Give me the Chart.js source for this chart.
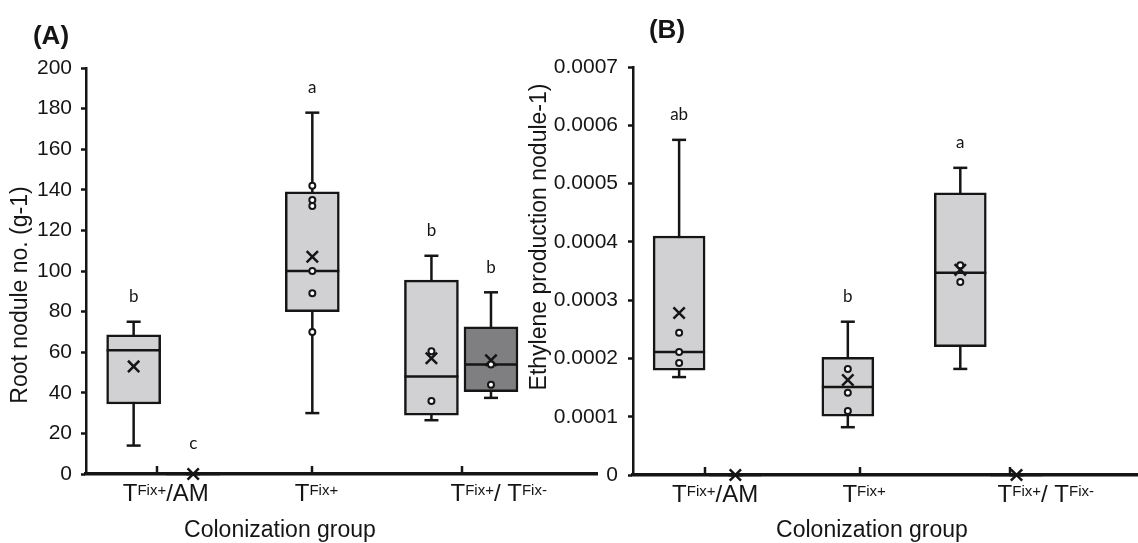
<!DOCTYPE html>
<html lang="en">
<head>
<meta charset="UTF-8">
<title>Root nodules and ethylene production by colonization group</title>
<script src="https://cdn.jsdelivr.net/npm/chart.js"></script>
<style>
  html, body { margin: 0; padding: 0; background: #fff; }
  body { width: 1138px; height: 543px; position: relative; overflow: hidden; }
  .panel { position: absolute; top: 0; height: 543px; }
  #panelA { left: 0; width: 600px; }
  #panelB { left: 520px; width: 618px; }
</style>
</head>
<body>
<div class="panel" id="panelA"><canvas id="noduleChart"></canvas></div>
<div class="panel" id="panelB"><canvas id="ethyleneChart"></canvas></div>

<script>
// groups on the x axis (^{...} = superscript)
const groupLabels = ['T^{Fix+}/AM', 'T^{Fix+}', 'T^{Fix+}/ T^{Fix-}'];
// one entry per box: x slot and fill shade
const boxSlot  = [0, 1, 3, 5, 6];
const boxShade = ['light', 'dark', 'light', 'light', 'dark'];

// (A) root nodule no. (g-1)
const noduleMin    = [14, 0, 30, 26.5, 37.5];
const noduleQ1     = [34.5, 0, 80, 29, 40.5];
const noduleMedian = [61, 0, 100, 48, 54];
const noduleQ3     = [68.5, 0, 139, 95.5, 72.5];
const noduleMax    = [75, 0, 178, 107.5, 89.5];
const noduleMean   = [53, 0, 107, 57, 56];
const nodulePoints = [[], [], [142, 135, 132, 100, 89, 70], [60.5, 36], [54, 44]];
const noduleLetters = ['b', 'c', 'a', 'b', 'b'];
const noduleTicks  = [0, 20, 40, 60, 80, 100, 120, 140, 160, 180, 200];

// (B) ethylene production nodule-1
const ethyleneMin    = [0.000168, 0, 0.000082, 0.000182, 0];
const ethyleneQ1     = [0.000180, 0, 0.000101, 0.000220, 0];
const ethyleneMedian = [0.000211, 0, 0.000151, 0.000347, 0];
const ethyleneQ3     = [0.000410, 0, 0.000202, 0.000484, 0];
const ethyleneMax    = [0.000575, 0, 0.000263, 0.000527, 0];
const ethyleneMean   = [0.000278, 0, 0.000163, 0.000352, 0];
const ethylenePoints = [[0.000244, 0.000211, 0.000192], [], [0.000182, 0.000141, 0.000110], [0.000360, 0.000331], []];
const ethyleneLetters = ['ab', '', 'b', 'a', ''];
const ethyleneTicks  = [0, 0.0001, 0.0002, 0.0003, 0.0004, 0.0005, 0.0006, 0.0007];

const INK = '#151515';
const FONT = '"Liberation Sans", Arial, sans-serif';
Chart.defaults.font.family = FONT;
Chart.defaults.color = INK;

// builds whiskers, boxes, medians, raw points and means for one panel
function boxDatasets(st, boxWidth) {
  const sets = [];
  st.min.forEach((lo, i) => {
    sets.push({
      type: 'scatter', order: 3, showLine: true, clip: false,
      data: [{ x: boxSlot[i], y: lo }, { x: boxSlot[i], y: st.max[i] }],
      borderColor: INK, borderWidth: 2.5,
      pointStyle: 'line', pointRadius: 7, pointBorderWidth: 2.5, pointBorderColor: INK
    });
  });
  sets.push({
    type: 'bar', order: 2, grouped: false, barThickness: boxWidth,
    data: boxSlot.map((x, i) => ({ x: x, y: [st.q1[i], st.q3[i]] })),
    backgroundColor: boxShade.map(s => s === 'dark' ? '#7f7e80' : '#d1d0d2'),
    borderColor: INK, borderWidth: 2.5, borderSkipped: false
  });
  sets.push({
    type: 'scatter', order: 1, clip: false,
    data: boxSlot.map((x, i) => ({ x: x, y: st.med[i] })),
    pointStyle: 'line', pointRadius: boxWidth / 2, pointBorderWidth: 2.5, pointBorderColor: INK
  });
  const pts = [];
  st.points.forEach((list, i) => list.forEach(v => pts.push({ x: boxSlot[i], y: v })));
  sets.push({
    type: 'scatter', order: 0, clip: false, data: pts,
    pointStyle: 'circle', pointRadius: 3, pointBorderWidth: 2,
    pointBackgroundColor: '#fff', pointBorderColor: INK
  });
  sets.push({
    type: 'scatter', order: 0, clip: false,
    data: boxSlot.map((x, i) => ({ x: x, y: st.mean[i] })),
    pointStyle: 'crossRot', pointRadius: 8, pointBorderWidth: 2.5, pointBorderColor: INK
  });
  return sets;
}

// group label with superscripts
function drawGroupLabel(ctx, text, cx, base) {
  const parts = [];
  text.split(/(\^\{[^}]*\})/).forEach(p => {
    if (!p) return;
    if (p.startsWith('^{')) parts.push({ t: p.slice(2, -1), sup: true });
    else parts.push({ t: p, sup: false });
  });
  const fMain = '24px ' + FONT, fSup = '15px ' + FONT;
  let total = 0;
  parts.forEach(p => { ctx.font = p.sup ? fSup : fMain; p.w = ctx.measureText(p.t).width; total += p.w; });
  let xx = cx - total / 2;
  ctx.textAlign = 'left';
  ctx.textBaseline = 'alphabetic';
  parts.forEach(p => {
    ctx.font = p.sup ? fSup : fMain;
    ctx.fillText(p.t, xx, p.sup ? base - 6 : base);
    xx += p.w;
  });
}

// inward x ticks, group labels, significance letters, axis titles, panel tag
function decorPlugin(lay, st) {
  return {
    id: 'decor',
    afterDraw(chart) {
      const { ctx } = chart;
      const x = chart.scales.x, y = chart.scales.y;
      ctx.save();
      ctx.fillStyle = INK;
      ctx.strokeStyle = INK;
      ctx.lineWidth = 2.5;
      lay.tickAt.forEach(v => {
        const px = Math.round(x.getPixelForValue(v));
        ctx.beginPath();
        ctx.moveTo(px, y.bottom);
        ctx.lineTo(px, y.bottom - 8);
        ctx.stroke();
      });
      groupLabels.forEach((lab, i) => drawGroupLabel(ctx, lab, x.getPixelForValue(lay.labelAt[i]), lay.labelBase));

      ctx.font = '17px Lato, "Open Sans", sans-serif';
      ctx.textAlign = 'center';
      ctx.textBaseline = 'middle';
      st.letters.forEach((t, i) => {
        if (!t) return;
        const gap = st.max[i] === 0 ? 30 : 25;
        ctx.fillText(t, x.getPixelForValue(boxSlot[i]), y.getPixelForValue(st.max[i]) - gap);
      });

      ctx.font = '23px ' + FONT;
      ctx.fillText(lay.xTitle, lay.xTitlePos[0], lay.xTitlePos[1]);
      ctx.save();
      ctx.translate(lay.yTitlePos[0], lay.yTitlePos[1]);
      ctx.rotate(-Math.PI / 2);
      ctx.fillText(lay.yTitle, 0, 0);
      ctx.restore();

      ctx.font = 'bold 26px ' + FONT;
      ctx.fillText(lay.tag, lay.tagPos[0], lay.tagPos[1]);
      ctx.restore();
    }
  };
}

function makePanel(canvasId, st, lay) {
  new Chart(document.getElementById(canvasId), {
    type: 'bar',
    data: { datasets: boxDatasets(st, lay.boxWidth) },
    options: {
      responsive: true,
      maintainAspectRatio: false,
      animation: false,
      events: [],
      layout: { autoPadding: false, padding: { top: lay.padTop, right: lay.padRight, left: 0, bottom: 0 } },
      plugins: { legend: { display: false }, tooltip: { enabled: false } },
      scales: {
        x: {
          type: 'linear', offset: false, min: lay.xMin, max: lay.xMax,
          ticks: { display: false },
          grid: { display: true, drawOnChartArea: false, drawTicks: false },
          border: { display: true, color: INK, width: 3.5 },
          afterFit(s) { s.height = lay.axisH; }
        },
        y: {
          type: 'linear', stacked: false, min: 0, max: st.ticks[st.ticks.length - 1],
          afterBuildTicks(s) { s.ticks = st.ticks.map(v => ({ value: v })); },
          ticks: {
            padding: lay.tickPad, color: INK, font: { size: 21 },
            callback: v => st.tickText(v)
          },
          grid: { drawOnChartArea: false, drawTicks: true, tickLength: 5, tickWidth: 2.5, tickColor: INK },
          border: { display: true, color: INK, width: 2.5 },
          afterFit(s) { s.width = lay.axisW; }
        }
      }
    },
    plugins: [decorPlugin(lay, st)]
  });
}

makePanel('noduleChart', {
  min: noduleMin, q1: noduleQ1, med: noduleMedian, q3: noduleQ3, max: noduleMax,
  mean: noduleMean, points: nodulePoints, letters: noduleLetters, ticks: noduleTicks,
  tickText: v => String(v)
}, {
  xMin: -0.8, xMax: 7.78, boxWidth: 54,
  padTop: 68, padRight: 3, axisW: 86, axisH: 69, tickPad: 9,
  tickAt: [0.39, 2.99, 5.52], labelAt: [0.54, 3.07, 6.13], labelBase: 501,
  xTitle: 'Colonization group', xTitlePos: [280, 531],
  yTitle: 'Root nodule no. (g-1)', yTitlePos: [21, 295],
  tag: '(A)', tagPos: [51, 37]
});

makePanel('ethyleneChart', {
  min: ethyleneMin, q1: ethyleneQ1, med: ethyleneMedian, q3: ethyleneQ3, max: ethyleneMax,
  mean: ethyleneMean, points: ethylenePoints, letters: ethyleneLetters, ticks: ethyleneTicks,
  tickText: v => v === 0 ? '0' : v.toFixed(4)
}, {
  xMin: -0.82, xMax: 8.16, boxWidth: 52,
  padTop: 67, padRight: 0, axisW: 113, axisH: 68, tickPad: 10,
  tickAt: [0.46, 3.22, 5.88], labelAt: [0.64, 3.29, 6.52], labelBase: 502,
  xTitle: 'Colonization group', xTitlePos: [352, 531],
  yTitle: 'Ethylene production nodule-1)', yTitlePos: [20, 237],
  tag: '(B)', tagPos: [147, 31]
});
</script>
</body>
</html>
